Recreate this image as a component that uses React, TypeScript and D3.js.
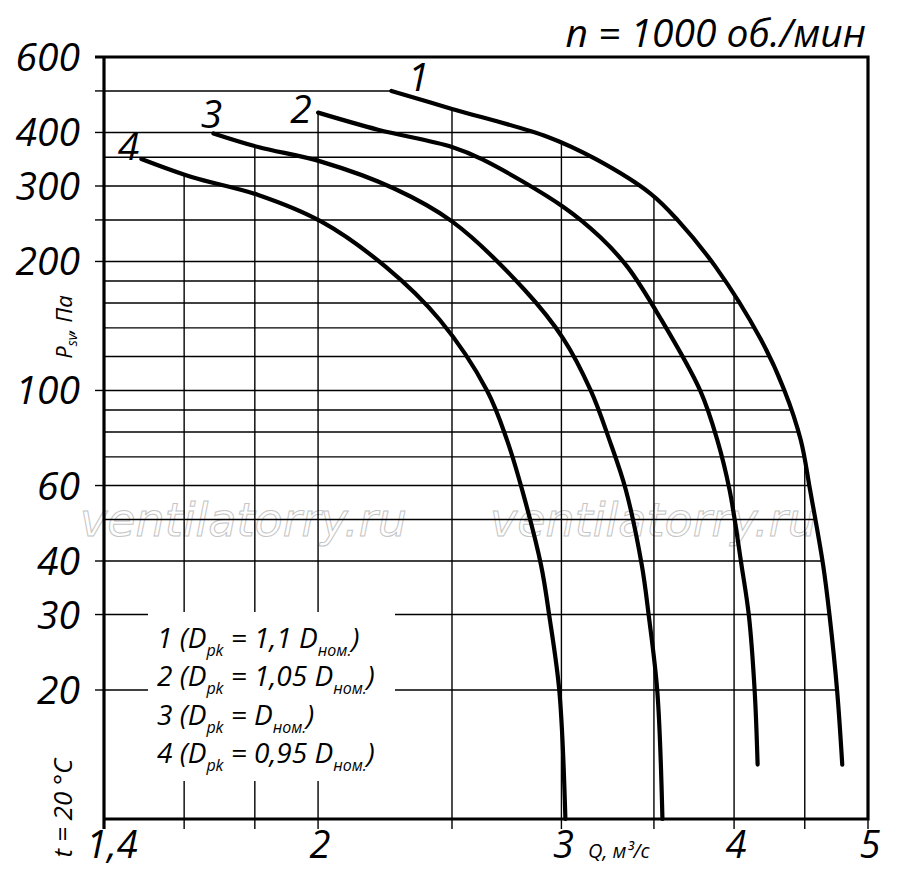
import React from 'react';
import * as d3 from 'd3';

// Fan curves, Q in m3/s, P in Pa
const curveNames = ['1', '2', '3', '4'];
const q1 = [2.26, 2.5, 2.93, 3.18, 3.48, 3.64, 3.88, 4.18, 4.35, 4.47, 4.54, 4.64, 4.69, 4.75, 4.79];
const p1 = [500, 454, 391, 346, 288, 250, 194, 132, 100, 76.6, 58.6, 39.1, 29.8, 19.8, 13.4];
const q2 = [2.0, 2.21, 2.5, 2.63, 3.01, 3.2, 3.35, 3.54, 3.78, 3.89, 3.97, 4.05, 4.1, 4.14, 4.16];
const p2 = [445, 406, 370, 346, 268, 228, 194, 147, 100, 76.6, 58.6, 39.1, 29.8, 19.8, 13.4];
const q3 = [1.68, 1.81, 2.01, 2.27, 2.5, 2.82, 3.01, 3.15, 3.25, 3.34, 3.43, 3.47, 3.52, 3.55];
const p3 = [398, 370, 342, 296, 248, 172, 132, 100, 76.6, 58.6, 39.1, 29.8, 19.8, 10];
const q4 = [1.49, 1.62, 1.81, 2.01, 2.24, 2.45, 2.65, 2.74, 2.81, 2.9, 2.94, 2.99, 3.02];
const p4 = [347, 315, 286, 248, 194, 146, 100, 76.6, 58.6, 39.1, 29.8, 19.8, 10];

const qTicks = [1.4, 2, 3, 4, 5];
const qTickLabels = ['1,4', '2', '3', '4', '5'];
const qGrid = [1.6, 1.8, 2, 2.5, 3, 3.5, 4, 4.5];
const pTicks = [600, 400, 300, 200, 100, 60, 40, 30, 20];
const pTickMarks = [600, 500, 400, 300, 250, 200, 100, 60, 40, 30, 20];
const pGrid = [500, 400, 350, 300, 250, 200, 180, 160, 140, 120, 100, 90, 80, 70, 60, 50, 40, 30, 20];
const legendCoefs = ['1,1', '1,05', '', '0,95'];

const W = 900;
const H = 878;
const left = 104, right = 868, top = 57, bottom = 819;
const font = "'Open Sans', 'DejaVu Sans', sans-serif";

type Pt = [number, number];

export default function App() {
  const x = d3.scaleLog().domain([1.4, 5]).range([left, right]);
  const y = d3.scaleLog().domain([10, 600]).range([bottom, top]);

  const series = [
    { name: curveNames[0], q: q1, p: p1 },
    { name: curveNames[1], q: q2, p: p2 },
    { name: curveNames[2], q: q3, p: p3 },
    { name: curveNames[3], q: q4, p: p4 },
  ];
  const pts = (s: { q: number[]; p: number[] }): Pt[] => s.q.map((q, i) => [q, s.p[i]]);

  const curve = d3.curveCatmullRom.alpha(0.5);
  const line = d3.line<Pt>().x(d => x(d[0])).y(d => y(d[1])).curve(curve);
  const area = d3.area<Pt>().x(d => x(d[0])).y0(bottom).y1(d => y(d[1])).curve(curve);

  // highest curve value at a given Q (log-log interpolation)
  const envelope = (q: number) => {
    let best: number | null = null;
    series.forEach(s => {
      for (let i = 0; i < s.q.length - 1; i++) {
        if (q >= s.q[i] - 1e-9 && q <= s.q[i + 1]) {
          const t = (Math.log(q) - Math.log(s.q[i])) / (Math.log(s.q[i + 1]) - Math.log(s.q[i]));
          const v = Math.exp(Math.log(s.p[i]) + t * (Math.log(s.p[i + 1]) - Math.log(s.p[i])));
          if (best === null || v > best) best = v;
          break;
        }
      }
    });
    return best;
  };

  const labelOffsets: Pt[] = [[27, 0], [-17, 10], [-2, -5], [-13, 1]];
  const legendBox = { x: 148, y: 612, w: 247, h: 169 };

  return (
    <svg width={W} height={H} style={{ position: 'absolute', left: 0, top: 0, background: '#fff' }}
      fontFamily={font} fontStyle="italic">
      <defs>
        <clipPath id="underCurve1">
          <path d={area(pts(series[0])) || ''} />
          <rect x={left} y={y(p1[0]) - 2} width={x(q1[0]) - left + 1} height={bottom - y(p1[0]) + 2} />
        </clipPath>
      </defs>
      <rect width={W} height={H} fill="#fff" />

      {/* watermark */}
      {[80, 490].map(wx => (
        <text key={wx} x={wx} y={536} fontFamily="'DejaVu Sans', sans-serif" fontStyle="oblique"
          fontSize={46} fill="none" stroke="#c4c4c4" strokeWidth={1}>ventilatorry.ru</text>
      ))}

      {/* horizontal grid, clipped under curve 1 */}
      <g clipPath="url(#underCurve1)">
        {pGrid.map(p => (
          <line key={p} x1={left} x2={right} y1={y(p)} y2={y(p)} stroke="#000" strokeWidth={1.4} />
        ))}
      </g>

      {/* vertical grid up to the highest curve */}
      {qGrid.map(q => {
        const e = envelope(q);
        return (
          <line key={q} x1={x(q)} x2={x(q)} y1={bottom + 10} y2={e === null ? top : y(e)}
            stroke="#000" strokeWidth={1.4} />
        );
      })}

      {/* ticks on the left */}
      {pTickMarks.map(p => (
        <line key={p} x1={left - 9} x2={left} y1={y(p)} y2={y(p)} stroke="#000" strokeWidth={1.4} />
      ))}
      <line x1={right} x2={right} y1={bottom} y2={bottom + 10} stroke="#000" strokeWidth={1.4} />

      {/* legend area */}
      <rect x={legendBox.x} y={legendBox.y} width={legendBox.w} height={legendBox.h} fill="#fff" />

      {/* frame */}
      <path d={`M${left - 9},${top}H${right}V${bottom}H${left}`} fill="none" stroke="#000" strokeWidth={3.2} />
      <line x1={left} x2={left} y1={top} y2={bottom + 10} stroke="#000" strokeWidth={3.2} />

      {/* curves */}
      {series.map(s => (
        <path key={s.name} d={line(pts(s)) || ''} fill="none" stroke="#000" strokeWidth={4.2}
          strokeLinecap="round" strokeLinejoin="round" />
      ))}
      {series.map((s, i) => (
        <text key={s.name} x={x(s.q[0]) + labelOffsets[i][0]} y={y(s.p[0]) + labelOffsets[i][1]}
          fontSize={39} textAnchor="middle">{s.name}</text>
      ))}

      {/* axis labels */}
      {pTicks.map(p => (
        <text key={p} x={80} y={y(p) + 14} fontSize={39} textAnchor="end">{p}</text>
      ))}
      {qTicks.map((q, i) => (
        <text key={q} x={x(q) + (i === 0 ? 8 : 2)} y={858} fontSize={38} textAnchor="middle">{qTickLabels[i]}</text>
      ))}
      <text x={588} y={858} fontSize={20}>Q, м³/с</text>
      <text transform="translate(72,327) rotate(-90)" fontSize={22} textAnchor="middle">
        P<tspan fontSize={14} dy={5}>sv</tspan><tspan dy={-5}>, Па</tspan>
      </text>
      <text transform="translate(72,808) rotate(-90)" fontSize={26} textAnchor="middle">t = 20 °C</text>
      <text x={866} y={47} fontSize={39} textAnchor="end">n = 1000 об./мин</text>

      {/* legend */}
      {curveNames.map((n, i) => (
        <text key={n} x={157} y={648 + i * 38.4} fontSize={28}>
          {n} (D<tspan fontSize={16} dy={8}>pk</tspan>
          <tspan dy={-8}>{` = ${legendCoefs[i] ? legendCoefs[i] + ' ' : ''}D`}</tspan>
          <tspan fontSize={16} dy={8}>ном.</tspan>
          <tspan dy={-8}>)</tspan>
        </text>
      ))}
    </svg>
  );
}
